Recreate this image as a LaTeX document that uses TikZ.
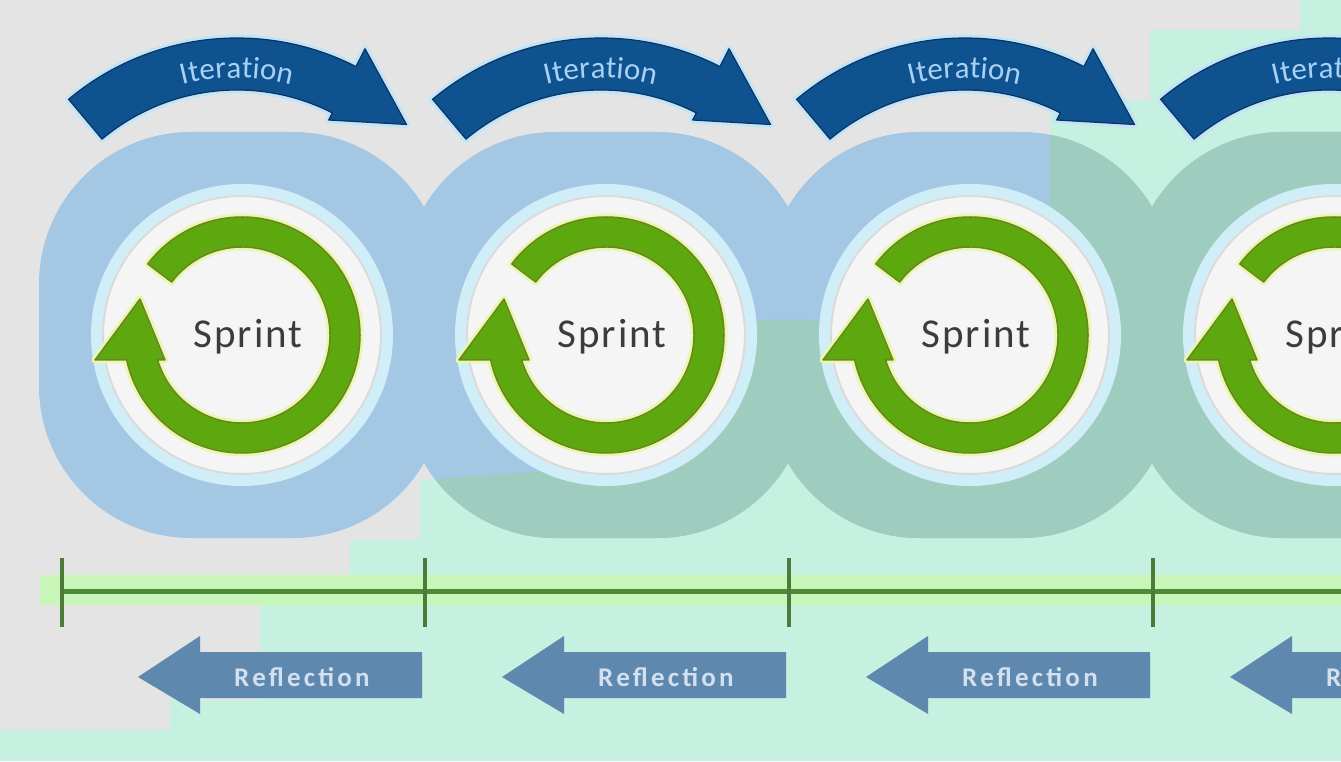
\documentclass[tikz,border=0pt]{standalone}
\usepackage{fontspec}
\setmainfont{Carlito}
\newfontfamily\sprintfont[LetterSpace=5]{Carlito}
\newfontfamily\iterfont[LetterSpace=10]{Carlito}
\newfontfamily\reflfont[LetterSpace=12]{Carlito}
\usetikzlibrary{decorations.text}
\definecolor{bggray}{HTML}{E4E4E4}
\definecolor{bgmint}{HTML}{C6F0E0}
\definecolor{gearblue}{HTML}{A4C7E4}
\definecolor{gearteal}{HTML}{9ECCBF}
\definecolor{halo}{HTML}{D0EEF8}
\definecolor{innerwhite}{HTML}{F5F5F5}
\definecolor{rimgray}{HTML}{DADADA}
\definecolor{ringgreen}{HTML}{5CA80E}
\definecolor{ringedge}{HTML}{6E8420}
\definecolor{ringglow}{HTML}{E8F8B0}
\definecolor{itblue}{HTML}{0E5290}
\definecolor{itdark}{HTML}{0B3460}
\definecolor{arrowhalo}{HTML}{C2E4F8}
\definecolor{ittext}{HTML}{A8D0F4}
\definecolor{reflblue}{HTML}{5E88AE}
\definecolor{refltext}{HTML}{D2E0F0}
\definecolor{bandgreen}{HTML}{C8F5B8}
\definecolor{tlgreen}{HTML}{4F8A3A}
\definecolor{tickgreen}{HTML}{4E7A3A}
\definecolor{sprinttext}{HTML}{3C3C3C}
\begin{document}
\begin{tikzpicture}[x=1pt,y=1pt,
  gearbody/.style={rounded corners=152},
  ringfill/.style={fill=ringgreen,draw=ringedge,line width=1.5pt,line join=round},
  ringglowline/.style={draw=ringglow,line width=7pt,line join=round},
  iterbody/.style={fill=itblue,draw=itdark,line width=1.2pt,line join=round},
  iterhalo/.style={draw=arrowhalo,line width=7pt,line join=round},
  reflbody/.style={fill=reflblue},
  sprintlabel/.style={font=\sprintfont\fontsize{41}{41}\selectfont,text=sprinttext,anchor=base},
  refllabel/.style={font=\reflfont\bfseries\fontsize{27}{27}\selectfont,text=refltext},
  tickline/.style={draw=tickgreen,line width=4pt}]
\useasboundingbox (0,0) rectangle (1341,761);
\clip (0,0) rectangle (1341,761);
% background
\fill[bggray] (0,0) rectangle (1341,761);
\fill[bgmint] (1341,761) -- (1341,0) -- (0,0) -- (0,31) -- (170,31) -- (170,61) -- (260,61) -- (260,161) -- (350,161) -- (350,221) -- (420,221) -- (420,281) -- (560,291) -- (660,441) -- (1050,441) -- (1050,661) -- (1150,661) -- (1150,731) -- (1300,731) -- (1300,761) -- cycle;
% timeline band
\fill[bandgreen] (40,156) rectangle (1341,186);
% gears
\foreach \cx in {242,606,970,1334}{
  \fill[gearblue,gearbody] (\cx-203,223) rectangle (\cx+203,629);
}
\begin{scope}
\clip (1341,761) -- (1341,0) -- (0,0) -- (0,31) -- (170,31) -- (170,61) -- (260,61) -- (260,161) -- (350,161) -- (350,221) -- (420,221) -- (420,281) -- (560,291) -- (660,441) -- (1050,441) -- (1050,661) -- (1150,661) -- (1150,731) -- (1300,731) -- (1300,761) -- cycle;
\foreach \cx in {242,606,970,1334}{
  \fill[gearteal,gearbody] (\cx-203,223) rectangle (\cx+203,629);
}
\end{scope}
% inner discs and green cycle arrows
\foreach \cx [count=\i] in {242,606,970,1334}{
  \begin{scope}[shift={(\cx,426)}]
    \fill[halo] (0,0) circle (151);
    \fill[innerwhite] (0,0) circle (140);
    \draw[rimgray,line width=2pt] (0,0) circle (139);
    \path[ringglowline] (143:118) arc[start angle=143,end angle=-167.8,radius=118] -- (-147,-25) -- (-102,36) -- (-77,-25) -- (-163.5:88) arc[start angle=-163.5,end angle=143,radius=88] -- cycle;
    \path[ringfill] (143:118) arc[start angle=143,end angle=-167.8,radius=118] -- (-147,-25) -- (-102,36) -- (-77,-25) -- (-163.5:88) arc[start angle=-163.5,end angle=143,radius=88] -- cycle;
  \end{scope}
  \node[sprintlabel] (sprint\i) at (\cx+6,413) {Sprint};
}
% iteration arrows
\foreach \cx in {237,601,965,1329}{
  \begin{scope}[shift={(\cx,461)}]
    \path[iterhalo] (130:262) arc[start angle=130,end angle=63,radius=262] -- (63:282) -- (46:244) -- (63:202) -- (63:210) arc[start angle=63,end angle=130,radius=210] -- cycle;
    \path[iterbody] (130:262) arc[start angle=130,end angle=63,radius=262] -- (63:282) -- (46:244) -- (63:202) -- (63:210) arc[start angle=63,end angle=130,radius=210] -- cycle;
    \path[decorate,decoration={text along path,text align=center,text color=ittext,
      text={|\iterfont\fontsize{31}{31}\selectfont|Iteration}}]
      (125:222) arc[start angle=125,end angle=55,radius=222];
  \end{scope}
}
% timeline
\coordinate (tstart) at (62,170);
\coordinate (tend) at (1341,170);
\draw[tlgreen,line width=5pt] (tstart) -- (tend);
\foreach \tx [count=\i] in {62,425,789,1153}{
  \coordinate (tickt\i) at (\tx,203);
  \coordinate (tickb\i) at (\tx,134);
  \draw[tickline] (tickt\i) -- (tickb\i);
}
% reflection arrows
\foreach \dx [count=\i] in {0,364,728,1092}{
  \begin{scope}[xshift=\dx]
    \fill[reflbody] (138,84) -- (200,125) -- (200,109) -- (422,109) -- (422,63) -- (200,63) -- (200,47) -- cycle;
    \node[refllabel] (refl\i) at (302,84) {Reflection};
  \end{scope}
}
\end{tikzpicture}
\end{document}
